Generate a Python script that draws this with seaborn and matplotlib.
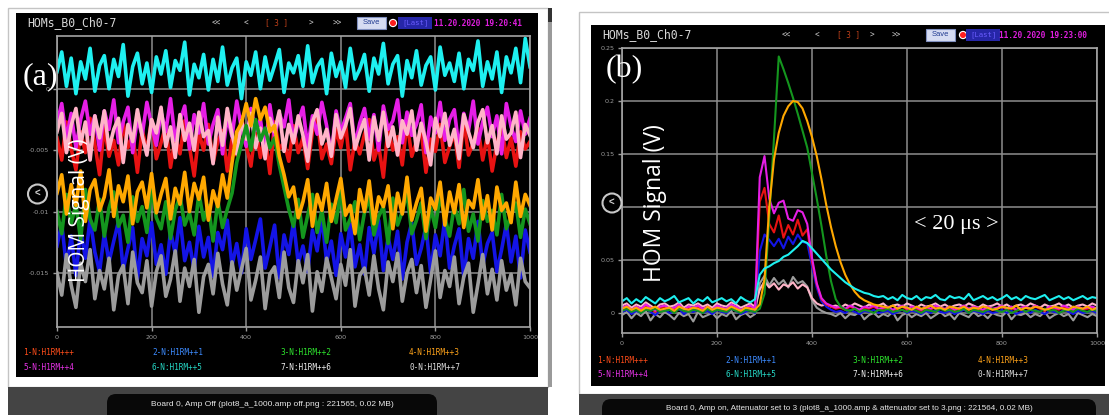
import numpy as np
import pandas as pd
import matplotlib
matplotlib.use("Agg")
import matplotlib.pyplot as plt
from matplotlib.patches import Rectangle, FancyBboxPatch, Circle
import seaborn as sns

# ---------------------------------------------------------------- data
# Channel keys and their legend labels / colours
channels = ["1", "2", "3", "4", "5", "6", "7", "0"]
legend_labels = ["1-N:H1RM+++", "2-N:H1RM++1", "3-N:H1RM++2", "4-N:H1RM++3",
                 "5-N:H1RM++4", "6-N:H1RM++5", "7-N:H1RM++6", "0-N:H1RM++7"]
legend_colors = ["#ff4d1a", "#3d8bff", "#2ee62e", "#ffa31a",
                 "#e633e6", "#26d9c7", "#f0f0f0", "#e0e0e0"]
trace_colors = {"1": "#e81212", "2": "#1414e6", "3": "#14961e", "4": "#ffa800",
                "5": "#e61ee6", "6": "#1ef0f0", "7": "#ffb4c8", "0": "#9c9c9c"}

x_ticks = [0, 200, 400, 600, 800, 1000]
y_ticks_a = [0, -0.005, -0.01, -0.015]
y_tick_labels_a = ["0", "-0.005", "-0.01", "-0.015"]
y_ticks_b = [0, 0.05, 0.1, 0.15, 0.2, 0.25]
y_tick_labels_b = ["0", "0.05", "0.1", "0.15", "0.2", "0.25"]

# (a) amplifier off: one sample every 10 points, values in units of 0.1 mV
cyan_a = [14, 30, 2, 25, -4, 22, 8, 33, -2, 19,
          27, 0, 24, 10, 36, -6, 18, 29, 4, 21,
          -3, 26, 12, 31, 1, 23, 15, 38, -5, 20,
          9, 28, -1, 24, 6, 34, 3, 17, 25, -8,
          22, 11, 30, 0, 26, 7, 19, 32, -3, 21,
          13, 27, 2, 35, 5, 18, 24, -4, 29, 10,
          22, 1, 33, 8, 16, 28, -2, 25, 12, 37,
          4, 20, 27, -6, 23, 9, 31, 3, 19, 26,
          -1, 34, 11, 21, 6, 29, 0, 24, 15, 39,
          2, 22, 8, 30, -3, 26, 13, 33, 5, 41, 18]
magenta_a = [-28, -12, -41, -20, -48, -25, -10, -37, -22, -50,
             -18, -33, -9, -44, -27, -15, -52, -24, -38, -11,
             -30, -46, -19, -35, -8, -42, -26, -14, -49, -21,
             -36, -12, -45, -29, -17, -53, -23, -39, -10, -32,
             -47, -16, -34, -25, -51, -13, -40, -20, -31, -9,
             -43, -27, -15, -48, -22, -37, -11, -30, -54, -18,
             -35, -24, -12, -46, -28, -16, -41, -21, -50, -14,
             -33, -26, -9, -44, -19, -38, -29, -13, -52, -23,
             -36, -11, -42, -25, -17, -49, -20, -34, -10, -45,
             -27, -15, -39, -22, -53, -12, -31, -43, -18, -37, -24]
pink_a = [-35, -20, -52, -30, -16, -45, -27, -58, -22, -40,
          -18, -49, -33, -24, -60, -29, -43, -17, -38, -54,
          -25, -36, -15, -47, -31, -56, -21, -42, -28, -50,
          -19, -39, -34, -61, -23, -46, -16, -37, -53, -26,
          -41, -20, -48, -32, -57, -24, -35, -18, -51, -29,
          -44, -22, -38, -59, -27, -17, -45, -33, -55, -21,
          -40, -30, -16, -49, -36, -25, -58, -23, -42, -19,
          -47, -31, -54, -26, -37, -18, -50, -28, -43, -62,
          -24, -39, -20, -46, -33, -57, -21, -35, -48, -27,
          -17, -44, -30, -53, -22, -41, -36, -19, -56, -29, -38]
red_a = [-40, -58, -27, -49, -66, -35, -52, -24, -45, -70,
         -31, -55, -42, -62, -28, -48, -37, -68, -33, -51,
         -25, -57, -44, -30, -64, -39, -53, -26, -47, -71,
         -36, -50, -29, -60, -43, -34, -67, -41, -54, -23,
         -46, -63, -32, -56, -38, -69, -27, -49, -44, -59,
         -30, -52, -40, -65, -35, -24, -57, -45, -61, -33,
         -48, -28, -66, -42, -53, -37, -25, -58, -46, -72,
         -31, -50, -39, -62, -27, -55, -43, -34, -68, -41,
         -51, -29, -60, -47, -36, -64, -26, -54, -44, -32,
         -58, -38, -67, -45, -30, -56, -40, -63, -35, -49, -43]
blue_a = [-128, -110, -145, -120, -152, -115, -138, -106, -133, -149,
          -118, -141, -124, -108, -147, -130, -113, -155, -122, -136,
          -109, -143, -127, -151, -116, -134, -105, -140, -125, -148,
          -112, -137, -121, -153, -117, -131, -107, -144, -126, -150,
          -114, -139, -123, -106, -146, -129, -111, -154, -119, -135,
          -108, -142, -128, -149, -115, -132, -104, -141, -124, -152,
          -118, -137, -110, -145, -127, -151, -113, -134, -107, -148,
          -121, -139, -116, -155, -125, -109, -143, -130, -112, -150,
          -119, -136, -106, -146, -128, -114, -153, -122, -138, -108,
          -144, -126, -117, -149, -131, -110, -141, -120, -154, -115, -133]
grey_a = [-150, -168, -135, -160, -178, -142, -157, -131, -171, -148,
          -163, -138, -180, -152, -144, -175, -133, -158, -166, -140,
          -177, -149, -136, -169, -155, -132, -173, -146, -161, -139,
          -182, -153, -143, -167, -134, -159, -176, -141, -164, -147,
          -130, -172, -156, -137, -179, -151, -145, -170, -133, -162,
          -174, -140, -158, -135, -181, -149, -165, -138, -154, -171,
          -143, -160, -131, -177, -152, -146, -168, -136, -163, -180,
          -141, -157, -134, -173, -150, -139, -166, -144, -178, -155,
          -132, -170, -148, -161, -137, -175, -153, -142, -182, -159,
          -135, -167, -147, -172, -140, -164, -151, -176, -138, -157, -162]
orange_a = [-85, -70, -102, -78, -95, -67, -108, -82, -74, -99,
            -88, -66, -104, -79, -92, -71, -110, -84, -76, -97,
            -69, -101, -86, -73, -106, -81, -94, -68, -100, -77,
            -90, -72, -107, -83, -96, -70, -89,
            -60, -35, -28, -12, -30, -8, -25, -15, -35, -30, -55, -70, -88,
            -80, -105, -92, -74, -112, -86, -99, -77, -108, -90,
            -73, -103, -95, -118, -82, -100, -75, -110, -88, -96,
            -79, -114, -85, -102, -72, -107, -93, -81, -116, -89,
            -98, -76, -111, -84, -101, -78, -113, -91, -97, -74,
            -106, -87, -115, -80, -99, -93, -109, -76, -104, -86, -95]
green_a = [-100, -118, -86, -110, -94, -123, -82, -106, -115, -90,
           -120, -97, -84, -112, -103, -125, -88, -108, -96, -117,
           -81, -105, -114, -92, -122, -99, -87, -111, -101, -119,
           -85, -107, -95, -124, -91, -113, -98,
           -85, -60, -45, -30, -50, -25, -42, -32, -48, -40, -62, -80, -98,
           -112, -90, -121, -103, -86, -117, -99, -125, -94, -109,
           -83, -115, -106, -92, -123, -101, -88, -119, -104, -96,
           -126, -89, -111, -100, -84, -118, -107, -93, -122, -97,
           -113, -87, -105, -120, -95, -110, -82, -116, -102, -124,
           -91, -108, -99, -119, -86, -114, -103, -93, -121, -98, -110]

# (b) amplifier on, attenuator 3: one sample every 10 points, values in mV
cyan_b = [11, 14, 9, 13, 10, 15, 12, 9, 14, 11, 13, 16, 10, 12, 14, 9, 13, 11,
          15, 10, 12, 14, 11, 13, 9, 15, 12, 10, 13,
          36, 42, 44, 47, 49, 53, 55, 59, 63, 68, 66, 61, 56, 51, 46, 41, 37,
          33, 29, 26, 23, 21, 19, 18, 16, 15,
          16, 13, 15, 12, 17, 14, 13, 16, 12, 15, 14, 17, 13, 12, 16, 14, 15,
          13, 18, 12, 14, 16, 13, 15, 12, 14, 17, 13, 15, 12, 16, 14, 13, 15,
          17, 12, 14, 16, 13, 15, 12, 14, 16, 13, 15, 14]
pink_b = [7, 9, 5, 8, 6, 10, 7, 4, 8, 9, 6, 7, 10, 5, 8, 7, 9, 6, 8, 5, 9, 7,
          6, 10, 8, 5, 7, 9, 6,
          22, 30, 24, 28, 22, 27, 25, 29, 23, 27, 24, 14, 9, 7, 8, 6,
          7, 5, 8, 6, 9, 7, 5, 8, 6, 7, 9, 5, 7, 8, 6, 9, 7, 5, 8, 6,
          7, 9, 6, 8, 5, 7, 8, 6, 9, 7, 5, 8, 6, 7, 9, 6, 8, 5, 7, 8,
          6, 9, 7, 5, 8, 6, 7, 9, 6, 8, 5, 7, 8, 6, 9, 7]
grey_b = [-2, 1, -5, 0, -3, 2, -7, -1, -4, 1, -2, -6, 0, -3, -1, -8, 1, -4,
          -2, 0, -5, -1, -3, 2, -6, -2, 0, -4, -1,
          28, 35, 26, 33, 27, 31, 24, 34, 28, 30, 25, 12, 5, 2, 0, -1,
          -3, 0, -5, -1, -2, 1, -6, -2, 0, -4, -1, -3, 1, -7, -2, 0, -4, -1,
          -3, 0, -5, -2, 1, -3, -1, -6, 0, -2, -4, 1, -3, -1, -5, 0, -2, -3,
          1, -6, -1, -2, 0, -4, -1, -3, 1, -5, -2, 0, -3, -1, -7, 0, -2, -4,
          -1, -3]
orange_b = [4, 6, 3, 5, 2, 5, 4, 6, 3, 4, 5, 2, 6, 4, 3, 5, 4, 2, 6, 3, 5, 4,
            3, 6, 4, 2, 5, 4, 3,
            8, 32, 100, 145, 170, 186, 195, 200, 199, 193, 181, 166, 148, 126,
            102, 81, 63, 48, 36, 27, 20, 15, 12, 10, 8, 7, 6,
            5, 7, 4, 6, 5, 3, 6, 4, 5, 7, 4, 5, 3, 6, 5, 4, 6, 3, 5, 4,
            6, 5, 3, 4, 6, 5, 4, 7, 3, 5, 4, 6, 5, 3, 4, 6, 5, 4, 3, 6,
            5, 4, 6, 3, 5]
green_b = [2, 4, 1, 3, 0, 3, 2, 4, 1, 2, 3, 0, 4, 2, 1, 3, 2, 0, 4, 1, 3, 2,
           1, 4, 2, 0, 3, 2, 1,
           4, 18, 90, 165, 242, 230, 217, 203, 188, 172, 156, 132, 108, 82,
           54, 30, 13, 6,
           3, 2, 4, 1, 3, 2, 0, 3, 2, 4, 1, 2, 3, 1, 4, 2, 0, 3, 2, 1,
           4, 2, 3, 1, 2, 4, 0, 3, 2, 1, 3, 4, 2, 1, 3, 0, 2, 4, 1, 3,
           2, 1, 4, 2, 3, 0, 2, 3, 1, 4, 2, 1, 3, 2]
magenta_b = [5, 7, 3, 6, 4, 8, 5, 2, 6, 7, 4, 5, 8, 3, 6, 5, 7, 4, 6, 3, 7, 5,
             4, 8, 6, 3, 5, 7, 4,
             128, 148, 108, 94, 104, 106, 89, 87, 97, 95, 84, 52, 28, 14, 9, 7,
             5, 6, 4, 7, 5, 3, 6, 5, 7, 4, 5, 6, 3, 5, 7, 4, 6, 5, 3, 6,
             4, 7, 5, 4, 6, 3, 5, 7, 4, 6, 5, 3, 6, 4, 5, 7, 4, 6, 3, 5,
             6, 4, 7, 5, 3, 6, 5, 4, 7, 5, 3, 6, 4, 5, 6, 4]
red_b = [4, 6, 2, 5, 3, 7, 4, 1, 5, 6, 3, 4, 7, 2, 5, 4, 6, 3, 5, 2, 6, 4,
         3, 7, 5, 2, 4, 6, 3,
         105, 118, 84, 76, 92, 71, 83, 74, 88, 73, 79, 48, 27, 13, 8, 6,
         4, 5, 3, 6, 4, 2, 5, 4, 6, 3, 4, 5, 2, 4, 6, 3, 5, 4, 2, 5,
         3, 6, 4, 3, 5, 2, 4, 6, 3, 5, 4, 2, 5, 3, 4, 6, 3, 5, 2, 4,
         5, 3, 6, 4, 2, 5, 4, 3, 6, 4, 2, 5, 3, 4, 5, 3]
blue_b = [1, 3, -1, 2, 0, 4, 1, -2, 2, 3, 0, 1, 4, -1, 2, 1, 3, 0, 2, -1, 3,
          1, 0, 4, 2, -1, 1, 3, 0,
          58, 74, 69, 63, 70, 61, 72, 65, 74, 67, 66, 44, 24, 11, 6, 3,
          1, 2, 0, 3, 1, -1, 2, 1, 3, 0, 1, 2, -1, 1, 3, 0, 2, 1, -1, 2,
          0, 3, 1, 0, 2, -1, 1, 3, 0, 2, 1, -1, 2, 0, 1, 3, 0, 2, -1, 1,
          2, 0, 3, 1, -1, 2, 1, 0, 3, 1, -1, 2, 0, 1, 2, 0]

series_a = {"1": red_a, "5": magenta_a, "7": pink_a, "2": blue_a,
            "0": grey_a, "3": green_a, "4": orange_a, "6": cyan_a}
series_b = {"0": grey_b, "7": pink_b, "2": blue_b, "1": red_b,
            "5": magenta_b, "3": green_b, "4": orange_b, "6": cyan_b}

caption_a = "Board 0, Amp Off (plot8_a_1000.amp off.png : 221565, 0.02 MB)"
caption_b = ("Board 0, Amp on, Attenuator set to 3 (plot8_a_1000.amp & "
             "attenuator set to 3.png : 221564, 0.02 MB)")


def long_frame(series, step, unit):
    parts = []
    for key, vals in series.items():
        v = np.asarray(vals, dtype=float) * unit
        parts.append(pd.DataFrame({"t": np.arange(len(v)) * step,
                                   "v": v, "ch": key}))
    return pd.concat(parts, ignore_index=True)


df_a = long_frame(series_a, 10, 1e-4)
df_b = long_frame(series_b, 10, 1e-3)

# ---------------------------------------------------------------- figure
W, H = 1109, 415
fig = plt.figure(figsize=(W / 100, H / 100), dpi=100)
fig.patch.set_facecolor("white")

MONO = "DejaVu Sans Mono"
SANS = "Liberation Sans"
SERIF = "Liberation Serif"


def px_axes(x0, y0, x1, y1, **kw):
    return fig.add_axes([x0 / W, 1 - y1 / H, (x1 - x0) / W, (y1 - y0) / H], **kw)


bg = px_axes(0, 0, W, H)
bg.set_xlim(0, W)
bg.set_ylim(H, 0)
bg.axis("off")


def window(frame, panel, bar_y0, pill, pill_top, text_y, caption, csize):
    fx0, fy0, fx1, fy1 = frame
    bx0, by0, bx1, by1 = panel
    bg.add_patch(Rectangle((fx0, fy0), fx1 - fx0, fy1 - fy0, fc="white",
                           ec="#c4c4c4", lw=1.0))
    bg.add_patch(Rectangle((bx0, by0), bx1 - bx0, by1 - by0, fc="black",
                           ec="none"))
    bg.add_patch(Rectangle((fx0, bar_y0), fx1 - fx0, H - bar_y0 + 2,
                           fc="#444444", ec="none"))
    px0, px1 = pill
    bg.add_patch(FancyBboxPatch((px0, pill_top), px1 - px0, H - pill_top + 8,
                                boxstyle="round,pad=0,rounding_size=9",
                                fc="#080808", ec="none"))
    bg.text((px0 + px1) / 2, text_y, caption, color="#e8e8e8",
            fontsize=csize, family=SANS, ha="center", va="center")


window((8, 8, 548, 387), (16, 13, 538, 377), 387, (107, 437), 394, 404,
       caption_a, 6)
window((579, 12, 1112, 394), (591, 25, 1105, 386), 394, (602, 1096), 399,
       408, caption_b, 5.9)
# scroll bar at the right edge of the first window
bg.add_patch(Rectangle((548, 8), 4, 379, fc="#9a9a9a", ec="none"))
bg.add_patch(Rectangle((548, 8), 4, 14, fc="#333333", ec="none"))


def header(x0, y, stamp, nav):
    bg.text(x0, y, "HOMs_B0_Ch0-7", color="#d8d8d8", fontsize=8.3,
            family=MONO, ha="left", va="center")
    n_ll, n_l, n_3, n_r, n_rr, sv0, dot, last0, ts0 = nav
    for xx, s in [(n_ll, "<<"), (n_l, "<"), (n_r, ">"), (n_rr, ">>")]:
        bg.text(xx, y, s, color="#c8c8c8", fontsize=5.5, family=MONO,
                ha="center", va="center")
    bg.text(n_3, y, "[ 3 ]", color="#c0401a", fontsize=5.5, family=MONO,
            ha="center", va="center")
    bg.add_patch(Rectangle((sv0, y - 6), 29, 12, fc="#d6dcf2", ec="#8090c0",
                           lw=0.8))
    bg.text(sv0 + 14.5, y, "Save", color="#203a90", fontsize=5.5,
            family=SANS, ha="center", va="center")
    bg.add_patch(Circle((dot, y), 3.6, fc="#ff1e1e", ec="white", lw=0.8))
    bg.add_patch(Rectangle((last0, y - 6), 34, 12, fc="#2626a8", ec="none"))
    bg.text(last0 + 17, y, "[Last]", color="#6a5cff", fontsize=5.2,
            family=MONO, ha="center", va="center")
    bg.text(ts0, y, stamp, color="#e01ee0", fontsize=5.6, family=MONO,
            weight="bold", ha="left", va="center")


header(27, 23, "11.20.2020 19:20:41",
       (216, 246, 277, 311, 337, 357, 393, 398, 434))
header(602, 35, "11.20.2020 19:23:00",
       (786, 817, 849, 872, 896, 926, 963, 966, 999))


def legend(x_cols, y_rows):
    for i, (lab, col) in enumerate(zip(legend_labels, legend_colors)):
        bg.text(x_cols[i % 4], y_rows[i // 4], lab, color=col, fontsize=5.6,
                family=MONO, ha="left", va="center")


legend((23, 152, 280, 409), (352, 367))
legend((597, 725, 852, 978), (360, 374))


def icon(cx, cy):
    bg.add_patch(Circle((cx, cy), 9.5, fc="none", ec="#c8c8c8", lw=1.5))
    bg.text(cx - 0.5, cy, "<", color="#d0d0d0", fontsize=7, weight="bold",
            family=SANS, ha="center", va="center")


icon(37.5, 194)

# ---------------------------------------------------------------- plots


def style_axes(ax, ylim, yt, ytl):
    ax.set_facecolor("black")
    ax.set_xlim(0, 1000)
    ax.set_ylim(*ylim)
    ax.set_xticks(x_ticks)
    ax.set_xticklabels([str(t) for t in x_ticks])
    ax.set_yticks(yt)
    ax.set_yticklabels(ytl)
    ax.grid(True, color="#8e8e8e", lw=1.1)
    ax.set_axisbelow(True)
    for sp in ax.spines.values():
        sp.set_color("#a4a4a4")
        sp.set_linewidth(1.2)
    ax.tick_params(colors="#9c9c9c", labelsize=4.6, length=3, width=1,
                   pad=2.5)
    ax.set_xlabel("")
    ax.set_ylabel("")


axA = px_axes(57, 36, 530, 327)
sns.lineplot(data=df_a, x="t", y="v", hue="ch", hue_order=list(series_a),
             palette=trace_colors, estimator=None, sort=False, legend=False,
             linewidth=2.6, ax=axA)
style_axes(axA, (-0.0194, 0.0043), y_ticks_a, y_tick_labels_a)

axB = px_axes(622, 48, 1097, 333)
sns.lineplot(data=df_b, x="t", y="v", hue="ch", hue_order=list(series_b),
             palette=trace_colors, estimator=None, sort=False, legend=False,
             linewidth=1.5, ax=axB)
style_axes(axB, (-0.0189, 0.25), y_ticks_b, y_tick_labels_b)

# ---------------------------------------------------------------- overlay
top = px_axes(0, 0, W, H, zorder=10)
top.set_xlim(0, W)
top.set_ylim(H, 0)
top.axis("off")
top.patch.set_alpha(0)

# the navigation icon of the second window sits over its tick labels
top.add_patch(Circle((612, 203), 9.5, fc="black", ec="#c8c8c8", lw=1.5))
top.text(611.5, 203, "<", color="#d0d0d0", fontsize=7, weight="bold",
         family=SANS, ha="center", va="center")

top.text(40, 77, "(a)", color="white", fontsize=23, family=SERIF,
         ha="center", va="center")
top.text(624, 70, "(b)", color="white", fontsize=23, family=SERIF,
         ha="center", va="center")
top.text(79, 210, "HOM Signal (V)", color="white", fontsize=15,
         family="Open Sans", rotation=90, ha="center", va="center")
top.text(655, 203, "HOM Signal (V)", color="white", fontsize=16.5,
         family="Open Sans", rotation=90, ha="center", va="center")
top.text(956, 224, "< 20 \u03bcs >", color="white", fontsize=16,
         family=SERIF, ha="center", va="center")

fig.savefig("out.png", dpi=100, facecolor="white")
